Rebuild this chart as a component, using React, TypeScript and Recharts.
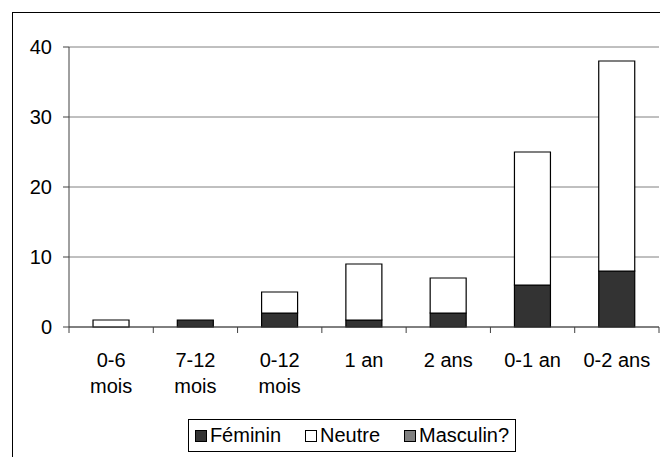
import { BarChart, Bar, XAxis, YAxis, CartesianGrid, Legend } from "recharts";

const categories = ["0-6\nmois", "7-12\nmois", "0-12\nmois", "1 an", "2 ans", "0-1 an", "0-2 ans"];
const feminin = [0, 1, 2, 1, 2, 6, 8];
const neutre = [1, 0, 3, 8, 5, 19, 30];
const masculin = [0, 0, 0, 0, 0, 0, 0];
const yTicks = [0, 10, 20, 30, 40];

const series = [
  { key: "Féminin", values: feminin, color: "#333333" },
  { key: "Neutre", values: neutre, color: "#ffffff" },
  { key: "Masculin?", values: masculin, color: "#808080" },
];

const data = categories.map((cat, i) => {
  const row: Record<string, any> = { cat };
  series.forEach((s) => (row[s.key] = s.values[i]));
  return row;
});

const W = 660;
const H = 457;
const Y_AXIS_W = 69;
const X_AXIS_H = 130;
const MARGIN = { top: 47, right: 1, bottom: 0, left: 0 };
const PLOT_W = W - Y_AXIS_W - MARGIN.left - MARGIN.right;
const FONT = "'Liberation Sans', Arial, sans-serif";
const FS = 20;

function CatTick(props: any) {
  const { x, y, payload, index } = props;
  const band = PLOT_W / categories.length;
  const left = x - band / 2;
  const lines = String(payload.value).split("\n");
  return (
    <g>
      <line x1={left} x2={left} y1={y} y2={y + 6} stroke="#404040" />
      {index === categories.length - 1 && (
        <line x1={left + band} x2={left + band} y1={y} y2={y + 6} stroke="#404040" />
      )}
      <text x={x} y={y} textAnchor="middle" fontSize={FS} fill="#000" fontFamily={FONT}>
        {lines.map((l, i) => (
          <tspan key={i} x={x} dy={i === 0 ? 40 : 26}>
            {l}
          </tspan>
        ))}
      </text>
    </g>
  );
}

function LegendBox() {
  return (
    <div
      style={{
        border: "1px solid #000",
        background: "#fff",
        height: 31,
        display: "flex",
        alignItems: "center",
        justifyContent: "center",
        gap: 24,
        fontFamily: FONT,
        fontSize: FS,
        color: "#000",
      }}
    >
      {series.map((s) => (
        <span key={s.key} style={{ display: "flex", alignItems: "center" }}>
          <span
            style={{
              display: "inline-block",
              width: 10,
              height: 10,
              border: "1px solid #000",
              background: s.color,
              marginRight: 3,
            }}
          />
          {s.key}
        </span>
      ))}
    </div>
  );
}

export default function App() {
  return (
    <div
      style={{
        position: "absolute",
        left: 0,
        top: 0,
        width: W,
        height: H,
        overflow: "hidden",
        background: "#fff",
      }}
    >
      {/* outer chart frame, runs off the right and bottom edges */}
      <div
        style={{
          position: "absolute",
          left: 12,
          top: 12,
          width: 800,
          height: 600,
          border: "1px solid #000",
        }}
      />
      <div style={{ position: "absolute", left: 0, top: 0 }}>
        <BarChart width={W} height={H} data={data} margin={MARGIN} barCategoryGap="28.5%">
          <CartesianGrid vertical={false} stroke="#808080" />
          <XAxis
            dataKey="cat"
            tick={<CatTick />}
            tickLine={false}
            tickSize={0}
            tickMargin={0}
            interval={0}
            height={X_AXIS_H}
            axisLine={{ stroke: "#404040" }}
          />
          <YAxis
            width={Y_AXIS_W}
            domain={[0, 40]}
            ticks={yTicks}
            tickSize={6}
            tickMargin={11}
            axisLine={{ stroke: "#404040" }}
            tickLine={{ stroke: "#404040" }}
            tick={{ fill: "#000", fontSize: FS, fontFamily: FONT }}
          />
          <YAxis
            yAxisId="frame"
            orientation="right"
            width={0}
            tick={false}
            tickLine={false}
            axisLine={{ stroke: "#808080" }}
          />
          <Legend
            layout="horizontal"
            verticalAlign="middle"
            align="center"
            content={<LegendBox />}
            wrapperStyle={{ position: "absolute", left: 188, top: 419, width: 328, height: 33 }}
          />
          {series.map((s) => (
            <Bar
              key={s.key}
              dataKey={s.key}
              stackId="a"
              fill={s.color}
              stroke="#000"
              strokeWidth={1.2}
              isAnimationActive={false}
            />
          ))}
        </BarChart>
      </div>
    </div>
  );
}
